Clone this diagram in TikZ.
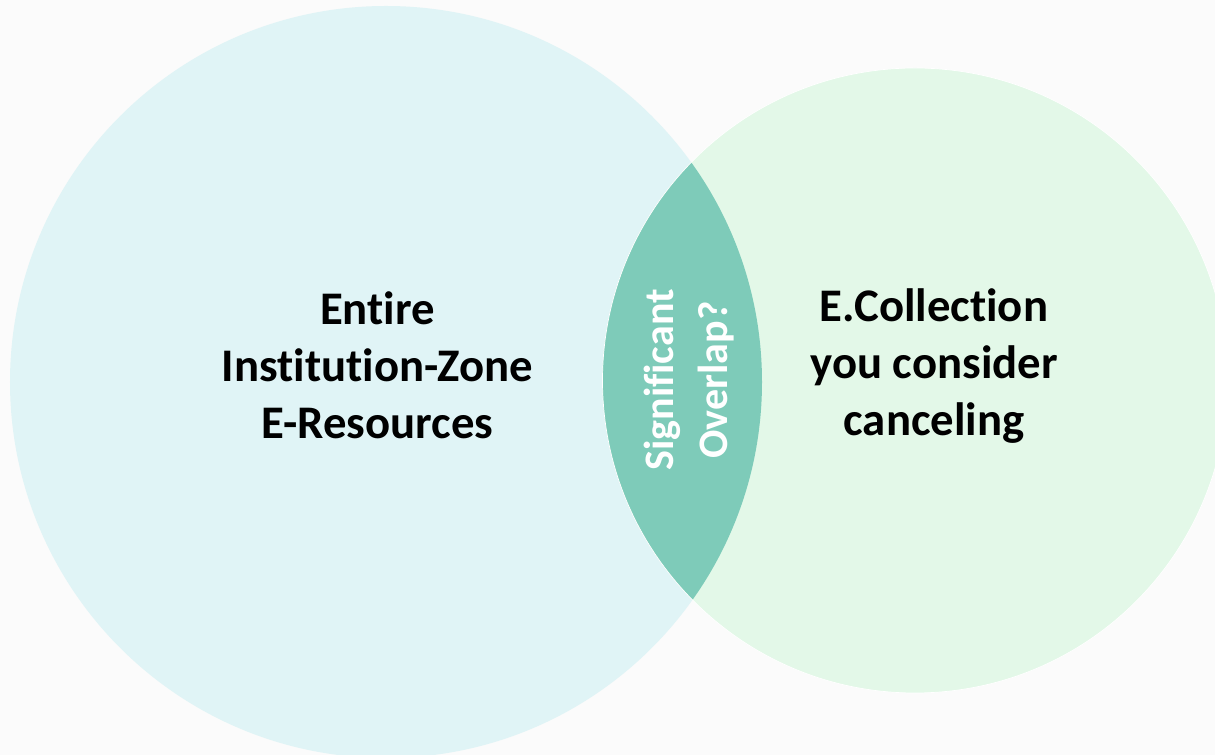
\documentclass[tikz,border=0pt]{standalone}
\usepackage{fontspec}
\setmainfont{Carlito}[Ligatures=NoCommon]

\definecolor{pagebg}{HTML}{FBFBFB}
\definecolor{leftfill}{HTML}{E0F4F6}
\definecolor{rightfill}{HTML}{E3F8E8}
\definecolor{overlapfill}{HTML}{7ECBB9}

\tikzset{
  circlelabel/.style={align=center, text=black, font=\fontsize{26.6}{32.5}\selectfont\bfseries},
  overlaplabel/.style={align=center, text=white, rotate=90, font=\fontsize{23.9}{30.7}\selectfont\bfseries}
}

\begin{document}
\begin{tikzpicture}
% Set the circle sizes
\def\leftradius{7.52}
\def\rightradius{6.25}

% Page size and background
\useasboundingbox (0,0) rectangle (24.3,15.1);
\fill[pagebg] (0,0) rectangle (24.3,15.1);
\clip (0,0) rectangle (24.3,15.1);

% Centres of the two circles
\coordinate (leftcentre) at (7.72,7.46);
\coordinate (rightcentre) at (18.30,7.49);

% Draw the two circles
\fill[leftfill] (leftcentre) circle (\leftradius);
\fill[rightfill] (rightcentre) circle (\rightradius);

% Fill the overlap
\begin{scope}
\clip (leftcentre) circle (\leftradius);
\fill[overlapfill] (rightcentre) circle (\rightradius);
\end{scope}
\draw[white, line width=0.4pt] (rightcentre) circle (\rightradius);

% Insert the labels
\node[circlelabel] (entire) at (7.55,7.80) {Entire\\Institution-Zone\\E-Resources};
\node[circlelabel] (collection) at (18.68,7.78) {E.Collection\\you consider\\canceling};
\node[overlaplabel] (overlap) at (13.78,7.50) {Significant\\Overlap?};
\end{tikzpicture}
\end{document}
